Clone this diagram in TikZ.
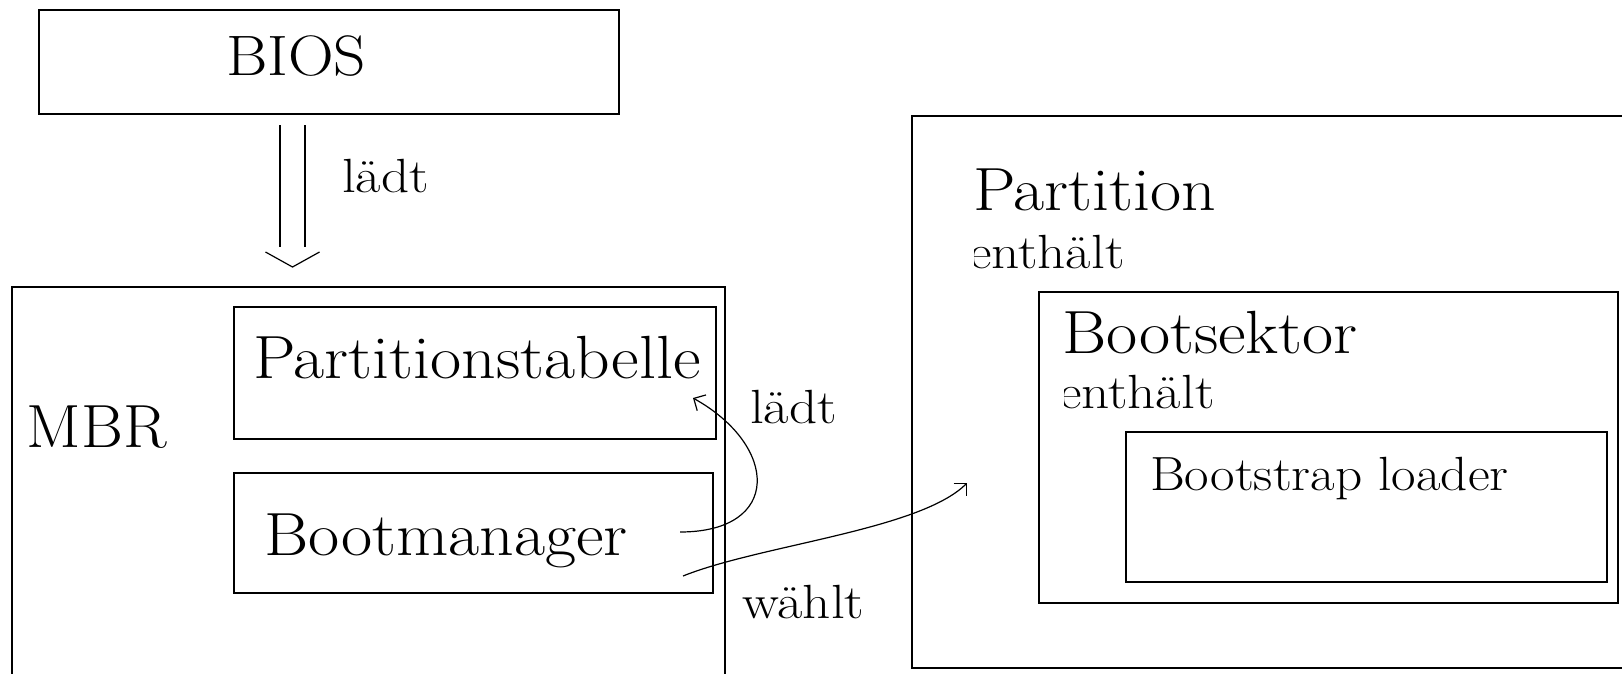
\documentclass[tikz,border=0pt]{standalone}
\usepackage{fontspec}
\setmainfont{Latin Modern Roman}
\newfontfamily\widefont{Latin Modern Roman}[FakeStretch=1.11]
\newfontfamily\widerfont{Latin Modern Roman}[FakeStretch=1.15]
\newfontfamily\slightfont{Latin Modern Roman}[FakeStretch=1.05]
\usetikzlibrary{calc,arrows.meta}
\tikzset{
  box/.style={draw, line width=2pt, inner sep=0pt, outer sep=0pt},
  bigtext/.style={font=\widefont\fontsize{61}{70}\selectfont, inner sep=0pt, outer sep=0pt, anchor=base west},
  mbrtext/.style={font=\slightfont\fontsize{61}{70}\selectfont, inner sep=0pt, outer sep=0pt, anchor=base west},
  biostext/.style={font=\widefont\fontsize{57}{66}\selectfont, inner sep=0pt, outer sep=0pt, anchor=base west},
  smalltext/.style={font=\widerfont\fontsize{48}{56}\selectfont, inner sep=0pt, outer sep=0pt, anchor=base west},
  loadertext/.style={font=\widefont\fontsize{48}{56}\selectfont, inner sep=0pt, outer sep=0pt, anchor=base west},
  conn/.style={line width=1.2pt},
  barb/.style={-{Straight Barb[length=9pt,width=18pt,line width=1.2pt]}},
}
\begin{document}
\begin{tikzpicture}[x=1pt,y=-1pt]
\useasboundingbox[fill=white] (0,0) rectangle (1622,673);
% boxes
\node[box, minimum width=580pt, minimum height=104pt] (bios) at (329,62) {};
\node[box, minimum width=713pt, minimum height=413pt] (mbr) at (368.5,493.5) {};
\node[box, minimum width=482pt, minimum height=132pt] (ptab) at (475,373) {};
\node[box, minimum width=479pt, minimum height=120pt] (bootmgr) at (473.5,533) {};
\node[box, minimum width=738pt, minimum height=552pt] (part) at (1281,392) {};
\node[box, minimum width=579pt, minimum height=311pt] (bsek) at (1328.5,447.5) {};
\node[box, minimum width=481pt, minimum height=150pt] (bstrap) at (1366.5,507) {};
% texts
\node[biostext] (biost) at (226,75) {BIOS};
\node[smalltext] (laedt1) at (342,192) {lädt};
\node[mbrtext] (mbrt) at (27,447) {MBR};
\node[bigtext] (ptabt) at (253,378) {Partitionstabelle};
\node[bigtext] (bootmgrt) at (264,555) {Bootmanager};
\node[smalltext] (laedt2) at (750,423) {lädt};
\node[smalltext] (waehlt) at (742,618) {wählt};
\node[bigtext] (partt) at (973,210) {Partition};
\begin{scope}
  \clip (974,220) rectangle (1150,285);
  \node[smalltext] (enth1) at (969,268) {enthält};
\end{scope}
\node[bigtext] (bsekt) at (1062,353) {Bootsektor};
\begin{scope}
  \clip (1064,360) rectangle (1240,425);
  \node[smalltext] (enth2) at (1059,408) {enthält};
\end{scope}
\node[loadertext] (bstrapt) at (1150,490) {Bootstrap loader};
% BIOS -> MBR hollow arrow
\coordinate (dtop) at ($(bios.south west)+(253.5,11)$);
\coordinate (dtip) at ($(mbr.north west)+(280.5,-20)$);
\draw[conn] ($(dtop)+(-12.5,0)$) -- ($(dtip)+(-12.5,-20)$);
\draw[conn] ($(dtop)+(12.5,0)$) -- ($(dtip)+(12.5,-20)$);
\draw[conn] ($(dtip)+(-27,-15)$) -- (dtip) -- ($(dtip)+(27,-15)$);
% Bootmanager -> Partitionstabelle
\coordinate (l1) at ($(bootmgr.east)+(-33,-1)$);
\coordinate (l2) at ($(ptab.east)+(-23,25)$);
\draw[conn, barb] (l1) .. controls +(102,0) and +(86,48) .. (l2);
% Bootmanager -> Partition
\coordinate (w1) at ($(bootmgr.east)+(-30,43)$);
\coordinate (w2) at ($(part.west)+(55,91)$);
\draw[conn, barb] (w1) .. controls +(77,-31) and +(-47,47) .. (w2);
\end{tikzpicture}
\end{document}
